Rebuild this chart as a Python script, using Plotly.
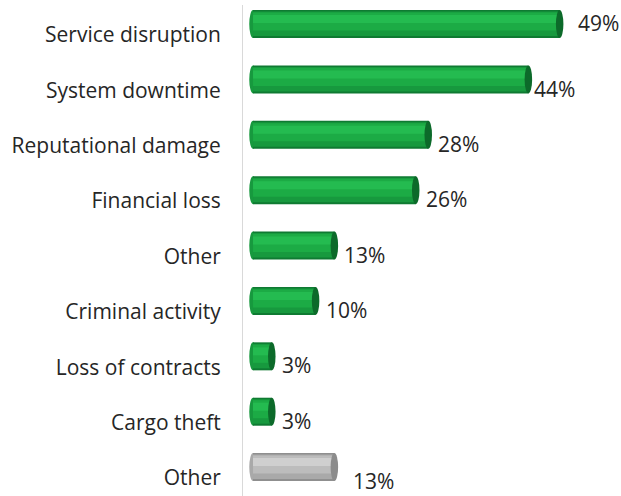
import plotly.graph_objects as go

categories = ["Service disruption", "System downtime", "Reputational damage",
              "Financial loss", "Other", "Criminal activity",
              "Loss of contracts", "Cargo theft", "Other"]
values = [49, 44, 28, 26, 13, 10, 3, 3, 13]
value_labels = ["49%", "44%", "28%", "26%", "13%", "10%", "3%", "3%", "13%"]
is_grey = [False] * 8 + [True]

pos = list(range(len(categories)))

# style: cylinder shading colours (edge, body, mid, highlight, cap)
GREEN = ("#0f7a32", "#17993e", "#1cab45", "#24bb50", "#0c6a2a")
GREY = ("#8f8f8f", "#a9a9a9", "#bcbcbc", "#cfcfcf", "#8c8c8c")

def pal(k):
    return [(GREY if g else GREEN)[k] for g in is_grey]

PX = 55.375          # pixels per category step
W = 28 / PX          # full bar thickness
OFF = -0.45          # bar top relative to category centre
# (colour index, top px, height px)
layers = [(0, 0, 28), (1, 1.5, 24.5), (2, 2.5, 18), (3, 5, 8)]

fig = go.Figure()
for k, top, h in layers:
    fig.add_trace(go.Bar(
        x=values, y=pos, orientation="h", width=h / PX, offset=OFF + top / PX,
        marker=dict(color=pal(k), line=dict(width=0)),
        hoverinfo="skip", showlegend=False))

shapes = []
for p, v, g in zip(pos, values, is_grey):
    c = GREY if g else GREEN
    shapes.append(dict(type="circle", xref="x", yref="y", layer="below",
                       x0=-0.6, x1=0.6, y0=p + OFF, y1=p + OFF + W,
                       fillcolor=c[1], line=dict(width=0)))
    shapes.append(dict(type="circle", xref="x", yref="y", layer="above",
                       x0=v - 0.6, x1=v + 0.6, y0=p + OFF, y1=p + OFF + W,
                       fillcolor=c[4], line=dict(width=0)))

# style: label offsets (px)
label_shift = {0: (12, 12), 1: (0, 1), 8: (13, -3)}
annotations = []
for p, v, t in zip(pos, values, value_labels):
    xs, ys = label_shift.get(p, (4, 2))
    annotations.append(dict(x=v, y=p, xref="x", yref="y", text=t,
                            showarrow=False, xanchor="left", yanchor="middle",
                            xshift=xs + 4, yshift=ys,
                            font=dict(family="Open Sans", size=21, color="#262626")))

fig.update_layout(
    width=621, height=496,
    margin=dict(l=243, r=0, t=5, b=0),
    paper_bgcolor="white", plot_bgcolor="white",
    barmode="overlay",
    shapes=shapes, annotations=annotations,
    xaxis=dict(range=[-1.6, 58.8], visible=False, fixedrange=True),
    yaxis=dict(range=[8.325, -0.542], tickmode="array", tickvals=pos,
               ticktext=categories, showgrid=False, zeroline=False,
               showline=True, linecolor="#d9d9d9", linewidth=1,
               ticks="", ticklabelstandoff=17, automargin=False,
               tickfont=dict(family="Open Sans", size=21, color="#262626")),
    font=dict(family="Open Sans"),
)

fig.write_html("out.html", config={"displayModeBar": False},
               post_script="document.body.style.margin='0';document.body.style.padding='0';")
